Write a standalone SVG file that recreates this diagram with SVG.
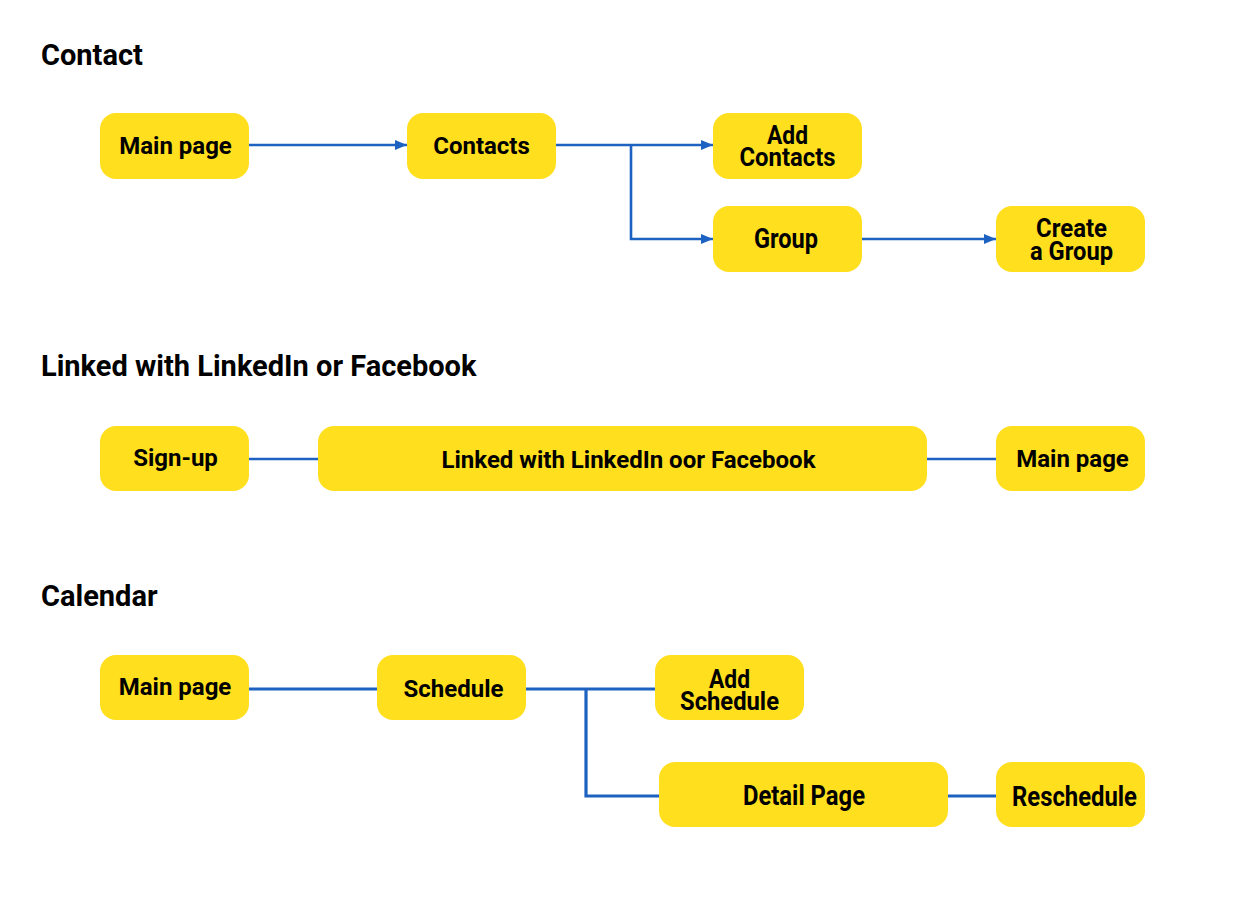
<svg xmlns="http://www.w3.org/2000/svg" width="1252" height="902" viewBox="0 0 1252 902">
<style>
.box{fill:#FFDF1E;}
.t{font-family:Roboto,"Liberation Sans",sans-serif;font-weight:bold;font-size:24px;fill:#000;text-anchor:middle;}
.tt{font-family:Roboto,"Liberation Sans",sans-serif;font-weight:bold;font-size:27px;fill:#000;text-anchor:middle;}
.t2{font-family:Roboto,"Liberation Sans",sans-serif;font-weight:bold;font-size:26px;fill:#000;text-anchor:middle;}
.h{font-family:Roboto,"Liberation Sans",sans-serif;font-weight:bold;font-size:29px;fill:#000;}
.c{stroke:#1D62C0;stroke-width:2.6;fill:none;}
.c3{stroke:#1D62C0;stroke-width:3.2;fill:none;}
</style>
<defs>
<marker id="arr" markerWidth="12" markerHeight="10" refX="12" refY="5" orient="auto" markerUnits="userSpaceOnUse">
<path d="M0,0 L12,5 L0,10 Z" fill="#1D62C0"/>
</marker>
</defs>
<rect width="1252" height="902" fill="#fff"/>
<text class="h" x="41" y="65">Contact</text>
<text class="h" x="41" y="376">Linked with LinkedIn or Facebook</text>
<text class="h" x="41" y="606">Calendar</text>

<g id="connectors">
<path class="c" d="M249,145 H407" marker-end="url(#arr)"/>
<path class="c" d="M556,145 H713" marker-end="url(#arr)"/>
<path class="c" d="M631,145 V239 H713" marker-end="url(#arr)"/>
<path class="c" d="M862,239 H996" marker-end="url(#arr)"/>
<path class="c" d="M249,459 H318"/>
<path class="c" d="M927,459 H996"/>
<path class="c3" d="M249,689 H377"/>
<path class="c3" d="M526,689 H655"/>
<path class="c3" d="M586,689 V796 H659"/>
<path class="c3" d="M948,796 H996"/>
</g>

<g id="n-main1"><rect class="box" x="100" y="113" width="149" height="66" rx="16"/><text class="t" x="175.5" y="153.5">Main page</text></g>
<g id="n-contacts"><rect class="box" x="407" y="113" width="149" height="66" rx="16"/><text class="t" x="481.5" y="153.5">Contacts</text></g>
<g id="n-addcontacts"><rect class="box" x="713" y="113" width="149" height="66" rx="16"/><text class="t2"><tspan x="787.5" y="143.5" textLength="41" lengthAdjust="spacingAndGlyphs">Add</tspan><tspan x="787.5" y="165.5" textLength="96" lengthAdjust="spacingAndGlyphs">Contacts</tspan></text></g>
<g id="n-group"><rect class="box" x="713" y="206" width="149" height="66" rx="16"/><text class="tt" x="786" y="248" textLength="64" lengthAdjust="spacingAndGlyphs">Group</text></g>
<g id="n-creategroup"><rect class="box" x="996" y="206" width="149" height="66" rx="16"/><text class="t2"><tspan x="1071.5" y="237" textLength="71" lengthAdjust="spacingAndGlyphs">Create</tspan><tspan x="1071.5" y="260" textLength="83" lengthAdjust="spacingAndGlyphs">a Group</tspan></text></g>

<g id="n-signup"><rect class="box" x="100" y="426" width="149" height="65" rx="16"/><text class="t" x="175.5" y="466">Sign-up</text></g>
<g id="n-linked"><rect class="box" x="318" y="426" width="609" height="65" rx="16"/><text class="t" x="628.5" y="468">Linked with LinkedIn oor Facebook</text></g>
<g id="n-main2"><rect class="box" x="996" y="426" width="149" height="65" rx="16"/><text class="t" x="1072.5" y="467">Main page</text></g>

<g id="n-main3"><rect class="box" x="100" y="655" width="149" height="65" rx="16"/><text class="t" x="175" y="694.5">Main page</text></g>
<g id="n-schedule"><rect class="box" x="377" y="655" width="149" height="65" rx="16"/><text class="t" x="453.5" y="696.5">Schedule</text></g>
<g id="n-addschedule"><rect class="box" x="655" y="655" width="149" height="65" rx="16"/><text class="t2"><tspan x="729.5" y="688" textLength="41" lengthAdjust="spacingAndGlyphs">Add</tspan><tspan x="729.5" y="710" textLength="99" lengthAdjust="spacingAndGlyphs">Schedule</tspan></text></g>
<g id="n-detail"><rect class="box" x="659" y="762" width="289" height="65" rx="16"/><text class="tt" x="804" y="805" textLength="122" lengthAdjust="spacingAndGlyphs">Detail Page</text></g>
<g id="n-reschedule"><rect class="box" x="996" y="762" width="149" height="65" rx="16"/><text class="tt" x="1074.5" y="806" textLength="125" lengthAdjust="spacingAndGlyphs">Reschedule</text></g>
</svg>
